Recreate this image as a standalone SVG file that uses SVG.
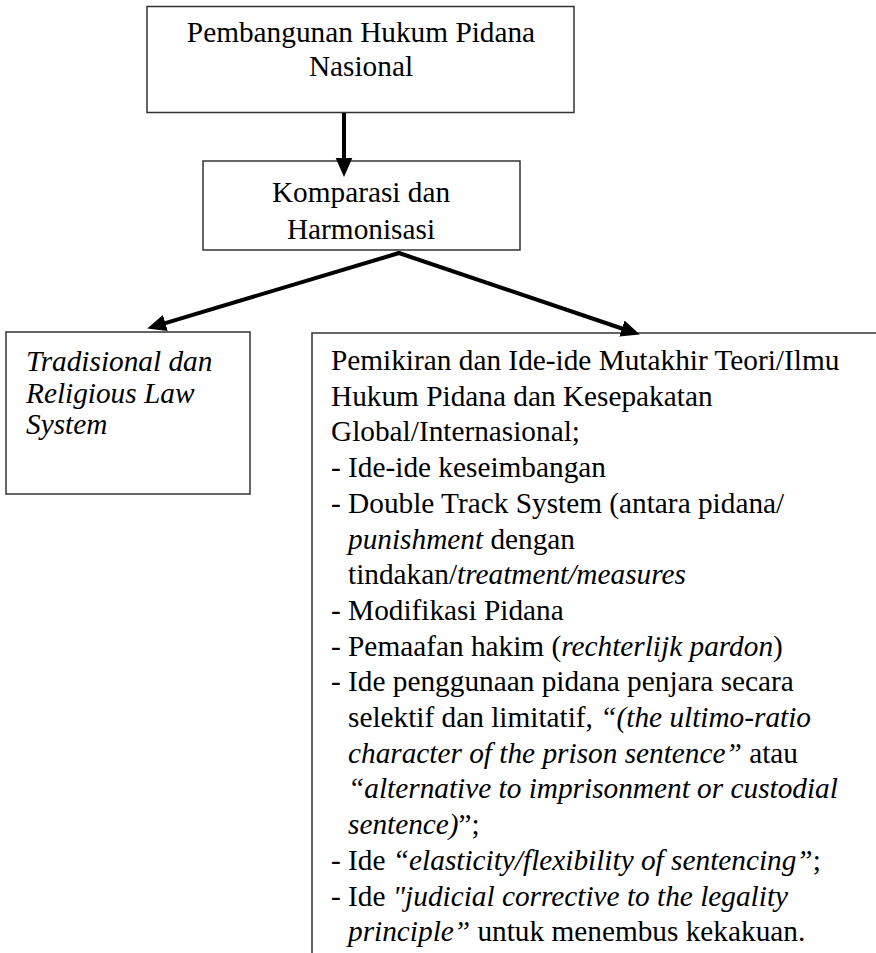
<svg xmlns="http://www.w3.org/2000/svg" width="876" height="953" viewBox="0 0 876 953">
<style>
.t{font-family:"Liberation Serif","Times New Roman",serif;font-size:29.3px;fill:#000}
.i{font-style:italic}
.box{fill:#fff;stroke:#333;stroke-width:1.5}
.conn{stroke:#000;stroke-width:4;fill:none;stroke-linecap:round}
</style>
<defs>
<marker id="ah" markerUnits="userSpaceOnUse" markerWidth="20" markerHeight="20" viewBox="0 -8 18 16" refX="0" refY="0" orient="auto">
<path d="M0,-7.5 L17,0 L0,7.5 z" fill="#000"/>
</marker>
</defs>
<rect width="876" height="953" fill="#fff"/>
<g id="node-pembangunan">
<rect class="box" x="147" y="6.5" width="427" height="106"/>
<text class="t" x="361" y="42" text-anchor="middle">Pembangunan Hukum Pidana</text>
<text class="t" x="361" y="76" text-anchor="middle">Nasional</text>
</g>
<g id="node-komparasi">
<rect class="box" x="203" y="161" width="317" height="89"/>
<text class="t" x="361" y="202" text-anchor="middle">Komparasi dan</text>
<text class="t" x="361" y="239" text-anchor="middle">Harmonisasi</text>
</g>
<g id="node-tradisional">
<rect class="box" x="6" y="332" width="244" height="162"/>
<text class="t i" x="26" y="371">Tradisional dan</text>
<text class="t i" x="26" y="403">Religious Law</text>
<text class="t i" x="26" y="434">System</text>
</g>
<g id="node-pemikiran">
<rect class="box" x="312" y="333" width="620" height="680"/>
<text class="t" x="331" y="370">Pemikiran dan Ide-ide Mutakhir Teori/Ilmu</text>
<text class="t" x="331" y="405.7">Hukum Pidana dan Kesepakatan</text>
<text class="t" x="331" y="441.4">Global/Internasional;</text>
<text class="t" x="331" y="477.1">- Ide-ide keseimbangan</text>
<text class="t" x="331" y="512.8">- Double Track System (antara pidana/</text>
<text class="t" x="348" y="548.5"><tspan class="i">punishment</tspan> dengan</text>
<text class="t" x="348" y="584.2">tindakan/<tspan class="i">treatment/measures</tspan></text>
<text class="t" x="331" y="619.9">- Modifikasi Pidana</text>
<text class="t" x="331" y="655.6">- Pemaafan hakim (<tspan class="i">rechterlijk pardon</tspan>)</text>
<text class="t" x="331" y="691.3">- Ide penggunaan pidana penjara secara</text>
<text class="t" x="348" y="727">selektif dan limitatif, <tspan class="i">“(the ultimo-ratio</tspan></text>
<text class="t" x="348" y="762.7"><tspan class="i">character of the prison sentence”</tspan> atau</text>
<text class="t i" x="348" y="798.4">“alternative to imprisonment or custodial</text>
<text class="t" x="348" y="834.1"><tspan class="i">sentence)</tspan>”;</text>
<text class="t" x="331" y="869.8">- Ide <tspan class="i">“elasticity/flexibility of sentencing”</tspan>;</text>
<text class="t" x="331" y="905.5">- Ide <tspan class="i">"judicial corrective to the legality</tspan></text>
<text class="t" x="348" y="941.2"><tspan class="i">principle”</tspan> untuk menembus kekakuan.</text>
</g>
<g id="connectors">
<path class="conn" style="stroke-linecap:butt" d="M344,113 L344,158" marker-end="url(#ah)"/>
<path class="conn" d="M399,253 L165.3,323.1" marker-end="url(#ah)"/>
<path class="conn" d="M399,253 L621.9,328.5" marker-end="url(#ah)"/>
</g>
</svg>
